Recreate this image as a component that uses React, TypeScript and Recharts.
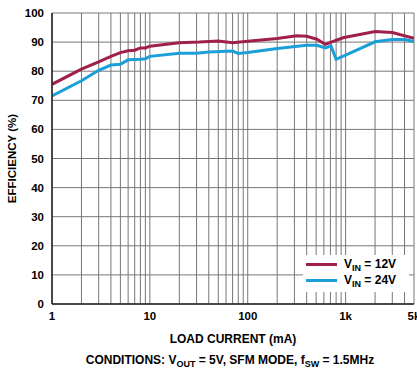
import { CartesianGrid, Line, LineChart, XAxis, YAxis } from "recharts";

const RED = "#a01f4b";
const BLUE = "#1a9fd9";
const FONT = "'Liberation Sans', Arial, sans-serif";

// load current (mA) and efficiency (%)
const vin12Current = [1, 2, 3, 4, 5, 6, 7, 8, 9, 10, 20, 32, 50, 70, 100, 200, 316, 400, 510, 620, 940, 2000, 3000, 5000];
const vin12Eff = [75.5, 80.7, 83.2, 85.1, 86.4, 87, 87.2, 88, 88, 88.6, 89.8, 90, 90.4, 89.8, 90.3, 91.2, 92.2, 92, 91, 89.2, 91.5, 93.6, 93.3, 91.3];

const vin24Current = [1, 2, 3, 4, 5, 6, 8, 9, 10, 20, 30, 40, 70, 80, 100, 200, 400, 510, 620, 710, 800, 1000, 2000, 3000, 4000, 5000];
const vin24Eff = [71.5, 76.7, 80.3, 82.1, 82.4, 83.9, 84.1, 84.3, 85.1, 86.2, 86.2, 86.6, 86.9, 86.1, 86.4, 87.8, 88.9, 88.9, 88, 88.7, 84.1, 85.5, 90.1, 90.9, 90.9, 90.2];

const xTicks = [
  1, 2, 3, 4, 5, 6, 7, 8, 9,
  10, 20, 30, 40, 50, 60, 70, 80, 90,
  100, 200, 300, 400, 500, 600, 700, 800, 900,
  1000, 2000, 3000, 4000, 5000,
];
const xLabels: Record<number, string> = { 1: "1", 10: "10", 100: "100", 1000: "1k", 5000: "5k" };
const yTicks = [0, 10, 20, 30, 40, 50, 60, 70, 80, 90, 100];

const legendItems = [
  { color: RED, label: "12V" },
  { color: BLUE, label: "24V" },
];

const vin12 = vin12Current.map((x, i) => ({ x, y: vin12Eff[i] }));
const vin24 = vin24Current.map((x, i) => ({ x, y: vin24Eff[i] }));

function LegendBox() {
  return (
    <div
      style={{
        position: "absolute",
        left: 303,
        top: 255,
        width: 106,
        height: 37,
        background: "#fff",
        fontFamily: FONT,
        fontWeight: "bold",
        fontSize: 12,
        paddingTop: 1,
        boxSizing: "border-box",
      }}
    >
      {legendItems.map((r) => (
        <div key={r.label} style={{ display: "flex", alignItems: "center", height: 16.5, paddingLeft: 3 }}>
          <div style={{ width: 31, height: 3, background: r.color, marginRight: 7 }} />
          <span style={{ whiteSpace: "nowrap", lineHeight: "12px" }}>
            V<span style={{ fontSize: 9, position: "relative", top: 3 }}>IN</span> = {r.label}
          </span>
        </div>
      ))}
    </div>
  );
}

function XLabel({ viewBox }: any) {
  const cx = viewBox.x + viewBox.width / 2;
  const y = viewBox.y;
  return (
    <g fontFamily={FONT} fontWeight="bold" fontSize={12} fill="#000">
      <text x={cx} y={y + 39} textAnchor="middle">LOAD CURRENT (mA)</text>
      <text x={cx - 3} y={y + 60} textAnchor="middle">
        CONDITIONS: V
        <tspan fontSize={9} dy={3}>OUT</tspan>
        <tspan dy={-3}> = 5V, SFM MODE, f</tspan>
        <tspan fontSize={9} dy={3}>SW</tspan>
        <tspan dy={-3}> = 1.5MHz</tspan>
      </text>
    </g>
  );
}

function YLabel({ viewBox }: any) {
  const cy = viewBox.y + viewBox.height / 2;
  return (
    <text
      x={16}
      y={cy}
      transform={`rotate(-90 16 ${cy})`}
      textAnchor="middle"
      fontFamily={FONT}
      fontWeight="bold"
      fontSize={11.5}
      fill="#000"
    >
      EFFICIENCY (%)
    </text>
  );
}

export default function App() {
  const tickStyle = { fontFamily: FONT, fontWeight: "bold", fontSize: 11.5, fill: "#000" };
  return (
    <div style={{ position: "absolute", left: 0, top: 0, width: 417, height: 369, background: "#fff" }}>
      <LineChart width={417} height={369} margin={{ top: 13, right: 3, bottom: 35, left: 0 }}>
        <CartesianGrid stroke="#777" strokeWidth={1} />
        <XAxis
          dataKey="x"
          type="number"
          scale="log"
          domain={[1, 5000]}
          ticks={xTicks}
          interval={0}
          allowDataOverflow
          tickFormatter={(v: number) => xLabels[v] ?? ""}
          tick={tickStyle}
          tickLine={false}
          axisLine={{ stroke: "#222", strokeWidth: 1.5 }}
          height={30}
          label={<XLabel />}
        />
        <YAxis
          type="number"
          domain={[0, 100]}
          ticks={yTicks}
          interval={0}
          width={52}
          tick={tickStyle}
          tickLine={false}
          axisLine={{ stroke: "#222", strokeWidth: 1.5 }}
          label={<YLabel />}
        />
        <Line
          data={vin12}
          dataKey="y"
          name="VIN = 12V"
          stroke={RED}
          strokeWidth={3}
          dot={false}
          isAnimationActive={false}
        />
        <Line
          data={vin24}
          dataKey="y"
          name="VIN = 24V"
          stroke={BLUE}
          strokeWidth={3}
          dot={false}
          isAnimationActive={false}
        />
      </LineChart>
      <LegendBox />
    </div>
  );
}
